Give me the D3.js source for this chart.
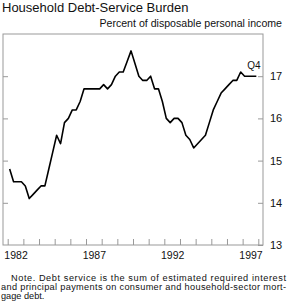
<!DOCTYPE html>
<html>
<head>
<meta charset="utf-8">
<script src="https://cdn.jsdelivr.net/npm/d3@7"></script>
<style>
body { margin: 0; background: #fff; }
text { font-family: "Liberation Sans", Arial, sans-serif; fill: #111; }
</style>
</head>
<body>
<svg id="chart" width="287" height="302"></svg>
<script>
// quarterly debt-service burden, 1982:Q1 - 1997:Q4
var burden = [
  14.8, 14.5, 14.5, 14.5,
  14.4, 14.1, 14.2, 14.3,
  14.4, 14.4, 14.8, 15.2,
  15.6, 15.4, 15.9, 16.0,
  16.2, 16.2, 16.4, 16.7,
  16.7, 16.7, 16.7, 16.7,
  16.8, 16.7, 16.8, 17.0,
  17.1, 17.1, 17.35, 17.6,
  17.3, 17.0, 16.9, 16.9,
  17.0, 16.7, 16.7, 16.4,
  16.0, 15.9, 16.0, 16.0,
  15.9, 15.6, 15.5, 15.3,
  15.4, 15.5, 15.6, 15.9,
  16.2, 16.4, 16.6, 16.7,
  16.8, 16.9, 16.9, 17.1,
  17.0, 17.0, 17.0, 17.0
]
var yTicks = [13, 14, 15, 16, 17]
var xLabels = [1982, 1987, 1992, 1997]
var noteLines = [
  "Note. Debt service is the sum of estimated required interest",
  "and principal payments on consumer and household-sector mort-",
  "gage debt."
]

var svg = d3.select("#chart")
var pLeft = 3, pRight = 263, pTop = 34, pBottom = 245

var x = d3.scaleLinear().domain([1981.7, 1998.3]).range([pLeft, pRight])
var y = d3.scaleLinear().domain([13, 18]).range([pBottom, pTop])

var pts = burden.map(function(v, i) {
  return { t: 1982 + Math.floor(i / 4) + ((i % 4) + 0.5) / 4, v: v }
})

svg.append("text")
  .attr("x", 2).attr("y", 12)
  .style("font-size", "13px")
  .text("Household Debt-Service Burden")

svg.append("text")
  .attr("x", 282).attr("y", 27)
  .attr("text-anchor", "end")
  .style("font-size", "10.6px")
  .text("Percent of disposable personal income")

// frame
svg.append("rect")
  .attr("x", pLeft).attr("y", pTop)
  .attr("width", pRight - pLeft).attr("height", pBottom - pTop)
  .attr("fill", "none").attr("stroke", "#999").attr("stroke-width", 1)

var tickColor = "#999"

var rAxis = svg.append("g")
  .attr("transform", "translate(" + pRight + ",0)")
  .call(d3.axisRight(y).tickValues(yTicks).tickSizeInner(-5).tickSizeOuter(0).tickPadding(7).tickFormat(d3.format("d")))
rAxis.select(".domain").remove()
rAxis.selectAll("line").attr("stroke", tickColor)
rAxis.selectAll("text").style("font-size", "11px").style("font-family", "Liberation Sans, Arial, sans-serif").attr("fill", "#111")

var lAxis = svg.append("g")
  .attr("transform", "translate(" + pLeft + ",0)")
  .call(d3.axisLeft(y).tickValues(yTicks.slice(1)).tickSizeInner(-5).tickSizeOuter(0).tickFormat(""))
lAxis.select(".domain").remove()
lAxis.selectAll("line").attr("stroke", tickColor)

var bAxis = svg.append("g")
  .attr("transform", "translate(0," + pBottom + ")")
  .call(d3.axisBottom(x).tickValues(d3.range(1982, 1999)).tickSizeInner(-6).tickSizeOuter(0).tickFormat(""))
bAxis.select(".domain").remove()
bAxis.selectAll("line").attr("stroke", tickColor)

var bLabels = svg.append("g")
  .attr("transform", "translate(0," + pBottom + ")")
  .call(d3.axisBottom(x).tickValues(xLabels.map(function(d) { return d + 0.5 }))
    .tickSize(0).tickPadding(7).tickFormat(function(d) { return Math.floor(d) }))
bLabels.select(".domain").remove()
bLabels.selectAll("text").style("font-size", "10.5px").style("font-family", "Liberation Sans, Arial, sans-serif").attr("fill", "#111")

var line = d3.line().x(function(d) { return x(d.t) }).y(function(d) { return y(d.v) })

svg.append("path")
  .datum(pts)
  .attr("d", line)
  .attr("fill", "none")
  .attr("stroke", "#000")
  .attr("stroke-width", 1.6)
  .attr("stroke-linejoin", "round")

var last = pts[pts.length - 1]
svg.append("text")
  .attr("x", x(last.t) - 9).attr("y", y(last.v) - 7)
  .style("font-size", "10px")
  .text("Q4")

var note = svg.append("g").style("font-size", "9.2px")
noteLines.forEach(function(s, i) {
  var t = note.append("text")
    .attr("x", i == 0 ? 11 : 1)
    .attr("y", 281 + i * 9)
    .text(s)
  if (i < 2) t.attr("textLength", i == 0 ? 275 : 285).attr("lengthAdjust", "spacing")
})
</script>
</body>
</html>
